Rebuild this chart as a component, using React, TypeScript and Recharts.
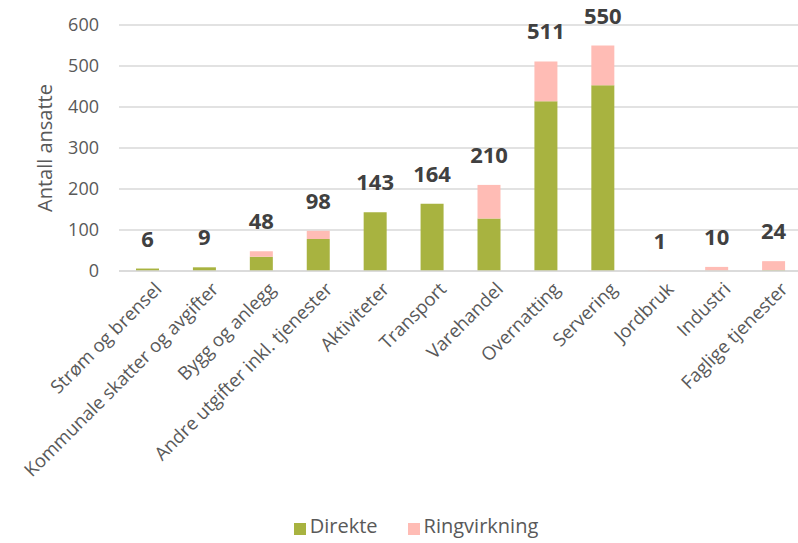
// Sysselsetting etter næring: direkte effekt og ringvirkninger, stablet.
import { Bar, BarChart, CartesianGrid, LabelList, Legend, XAxis, YAxis } from "recharts";

const CATEGORIES = [
  "Strøm og brensel",
  "Kommunale skatter og avgifter",
  "Bygg og anlegg",
  "Andre utgifter inkl. tjenester",
  "Aktiviteter",
  "Transport",
  "Varehandel",
  "Overnatting",
  "Servering",
  "Jordbruk",
  "Industri",
  "Faglige tjenester",
];
const DIREKTE = [6, 9, 35, 78, 143, 164, 128, 414, 453, 0, 1, 2];
const RINGVIRKNING = [0, 0, 13, 20, 0, 0, 82, 97, 97, 1, 9, 22];
const TOTAL = [6, 9, 48, 98, 143, 164, 210, 511, 550, 1, 10, 24];
const Y_TICKS = [0, 100, 200, 300, 400, 500, 600];

const FONT = "'Open Sans', sans-serif";
const GREEN = "#a8b340";
const PINK = "#ffbcb5";

const data = CATEGORIES.map((name, i) => ({
  name,
  direkte: DIREKTE[i],
  ring: RINGVIRKNING[i],
  total: TOTAL[i],
}));

export default function App() {
  return (
    <div style={{ position: "absolute", left: 0, top: 0, width: 798, height: 543, background: "#fff", fontFamily: FONT }}>
      <BarChart width={798} height={543} data={data} margin={{ top: 25, right: -4, bottom: 4, left: 0 }} barSize={23}>
        <CartesianGrid stroke="#d9d9d9" strokeWidth={1.5} vertical={false} />
        <XAxis
          dataKey="name"
          interval={0}
          height={241}
          tickLine={false}
          axisLine={{ stroke: "#d9d9d9", strokeWidth: 1.5 }}
          tick={{ fontSize: 18.5, fill: "#595959", fontFamily: FONT, angle: -45, textAnchor: "end", dx: 6, dy: 2 }}
        />
        {/* skjult akse for totalsummene, slik at etikettene ligger over stabelen */}
        <XAxis dataKey="name" xAxisId="lbl" hide />
        <YAxis
          domain={[0, 600]}
          ticks={Y_TICKS}
          width={119}
          tickLine={false}
          axisLine={false}
          tick={{ fontSize: 18, fill: "#595959", fontFamily: FONT, dx: -12 }}
          label={{ value: "Antall ansatte", angle: -90, position: "insideLeft", dx: 40, dy: 0, style: { fontSize: 20, fill: "#595959", fontFamily: FONT, textAnchor: "middle" } }}
        />
        <Legend
          verticalAlign="bottom"
          iconType="square"
          iconSize={12}
          wrapperStyle={{ paddingLeft: 20 }}
          formatter={(v: string) => (
            <span style={{ color: "#595959", fontSize: 20, fontFamily: FONT, marginRight: v === "Direkte" ? 20 : 0 }}>{v}</span>
          )}
          payload={[
            { value: "Direkte", type: "square", color: GREEN },
            { value: "Ringvirkning", type: "square", color: PINK },
          ]}
        />
        <Bar dataKey="direkte" name="Direkte" stackId="a" fill={GREEN} isAnimationActive={false} />
        <Bar dataKey="ring" name="Ringvirkning" stackId="a" fill={PINK} isAnimationActive={false} />
        <Bar dataKey="total" xAxisId="lbl" fill="transparent" legendType="none" isAnimationActive={false}>
          <LabelList dataKey="total" position="top" offset={22} style={{ fontSize: 22, fontWeight: 700, fill: "#404040", fontFamily: FONT }} />
        </Bar>
      </BarChart>
    </div>
  );
}
